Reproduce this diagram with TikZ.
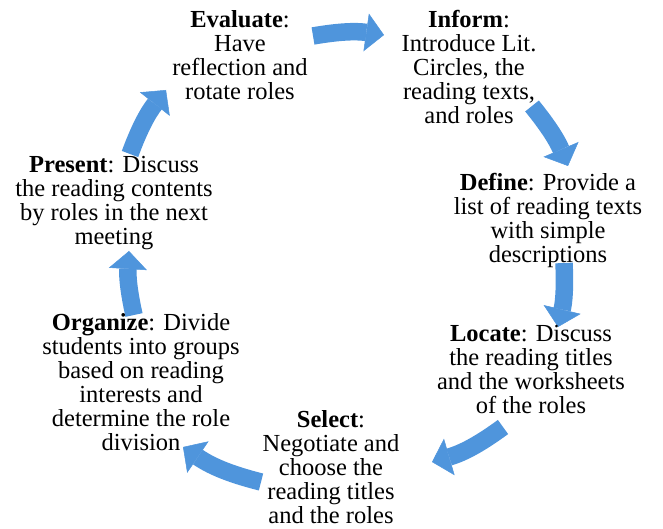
\documentclass[tikz,border=0pt]{standalone}
\usepackage{fontspec}
\setmainfont{Liberation Serif}
\usepackage{xcolor}
\usetikzlibrary{arrows.meta}
\definecolor{cycleblue}{HTML}{4F95DC}

\begin{document}
\begin{tikzpicture}[x=1pt, y=1pt,
    stage/.style={align=center, anchor=north, inner sep=0pt, font=\fontsize{24.5}{24}\selectfont},
    cyclearrow/.style={draw=cycleblue, line width=17.5pt, -{Triangle[length=18pt, width=38pt, line width=0.5pt]}}]
		\useasboundingbox (0,0) rectangle (663,529);

		\coordinate (a1s) at (313,493);
		\coordinate (a1e) at (384,494);
		\coordinate (a2s) at (532,423);
		\coordinate (a2e) at (568,363);
		\coordinate (a3s) at (564,266);
		\coordinate (a3e) at (558,202);
		\coordinate (a4s) at (503,102);
		\coordinate (a4e) at (432,67);
		\coordinate (a5s) at (261,47);
		\coordinate (a5e) at (183,82);
		\coordinate (a6s) at (134,214);
		\coordinate (a6e) at (129,278);
		\coordinate (a7s) at (130,375);
		\coordinate (a7e) at (166,439);

		\path (a1s) edge [cyclearrow, bend left=9] (a1e);
		\path (a2s) edge [cyclearrow, bend left=8] (a2e);
		\path (a3s) edge [cyclearrow, bend left=8] (a3e);
		\path (a4s) edge [cyclearrow, bend left=10] (a4e);
		\path (a5s) edge [cyclearrow, bend left=10] (a5e);
		\path (a6s) edge [cyclearrow, bend left=8] (a6e);
		\path (a7s) edge [cyclearrow, bend left=9] (a7e);

		\node[stage] (evaluate) at (240,518.7) {\textbf{Evaluate}:\\Have\\reflection and\\rotate roles};
		\node[stage] (inform) at (469,518.7) {\textbf{Inform}:\\Introduce Lit.\\Circles, the\\reading texts,\\and roles};
		\node[stage] (define) at (548,355.7) {\textbf{Define}: Provide a\\list of reading texts\\with simple\\descriptions};
		\node[stage] (locate) at (531,203.7) {\textbf{Locate}: Discuss\\the reading titles\\and the worksheets\\of the roles};
		\node[stage] (select) at (331,118.7) {\textbf{Select}:\\Negotiate and\\choose the\\reading titles\\and the roles};
		\node[stage] (organize) at (141,215.7) {\textbf{Organize}: Divide\\students into groups\\based on reading\\interests and\\determine the role\\division};
		\node[stage] (present) at (114,372.7) {\textbf{Present}: Discuss\\the reading contents\\by roles in the next\\meeting};
	\end{tikzpicture}
\end{document}
